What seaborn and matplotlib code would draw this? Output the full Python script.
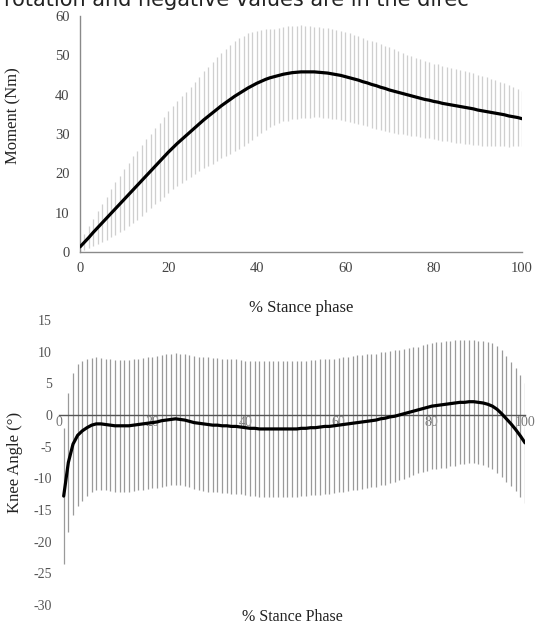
import numpy as np
import seaborn as sns
import matplotlib.pyplot as plt
import pandas as pd

# top panel: moment (Nm), 0..100 % stance
moment_x = list(range(0, 101))
moment_mean = [1.3, 2.5, 3.7, 5.0, 6.2, 7.4, 8.6, 9.8, 11.0, 12.2,
               13.4, 14.6, 15.8, 17.0, 18.2, 19.4, 20.6, 21.8, 23.0, 24.2,
               25.4, 26.5, 27.6, 28.6, 29.6, 30.6, 31.6, 32.6, 33.6, 34.5,
               35.4, 36.3, 37.2, 38.0, 38.8, 39.6, 40.3, 41.0, 41.7, 42.3,
               42.9, 43.4, 43.9, 44.3, 44.6, 44.9, 45.2, 45.4, 45.6, 45.7,
               45.8, 45.8, 45.8, 45.8, 45.7, 45.6, 45.5, 45.3, 45.1, 44.9,
               44.6, 44.3, 44.0, 43.7, 43.3, 43.0, 42.6, 42.3, 41.9, 41.6,
               41.2, 40.9, 40.6, 40.3, 40.0, 39.7, 39.4, 39.1, 38.8, 38.6,
               38.3, 38.1, 37.8, 37.6, 37.4, 37.2, 37.0, 36.8, 36.6, 36.4,
               36.1, 35.9, 35.7, 35.5, 35.3, 35.1, 34.9, 34.6, 34.4, 34.2,
               33.9]
moment_sd = [1.0, 2.0, 2.8, 3.5, 4.2, 4.9, 5.5, 6.1, 6.7, 7.2,
             7.7, 8.1, 8.5, 8.8, 9.1, 9.3, 9.5, 9.7, 9.9, 10.2,
             10.4, 10.6, 10.8, 11.0, 11.2, 11.4, 11.7, 12.0, 12.3, 12.6,
             12.9, 13.2, 13.4, 13.6, 13.8, 14.0, 14.0, 14.0, 13.9, 13.7,
             13.4, 13.1, 12.8, 12.5, 12.2, 12.0, 12.0, 12.0, 11.9, 11.8,
             11.8, 11.7, 11.6, 11.5, 11.4, 11.4, 11.4, 11.4, 11.4, 11.4,
             11.4, 11.3, 11.2, 11.1, 11.0, 11.0, 11.0, 11.0, 11.0, 10.9,
             10.8, 10.6, 10.5, 10.3, 10.2, 10.1, 10.0, 9.9, 9.8, 9.7,
             9.6, 9.6, 9.5, 9.5, 9.4, 9.4, 9.3, 9.3, 9.2, 9.1,
             9.0, 8.9, 8.8, 8.6, 8.4, 8.2, 8.0, 7.8, 7.5, 7.2,
             7.0]

# bottom panel: knee angle (deg), 1..100 % stance
knee_x = list(range(1, 101))
knee_mean = [-12.8, -7.5, -4.6, -3.2, -2.5, -2.0, -1.6, -1.4, -1.4, -1.5,
             -1.6, -1.7, -1.7, -1.7, -1.7, -1.6, -1.5, -1.4, -1.3, -1.2,
             -1.1, -0.9, -0.8, -0.7, -0.6, -0.7, -0.8, -1.0, -1.2, -1.3,
             -1.4, -1.5, -1.6, -1.6, -1.7, -1.7, -1.8, -1.8, -1.9, -2.0,
             -2.1, -2.1, -2.2, -2.2, -2.2, -2.2, -2.2, -2.2, -2.2, -2.2,
             -2.2, -2.1, -2.1, -2.0, -2.0, -1.9, -1.8, -1.8, -1.7, -1.6,
             -1.5, -1.4, -1.3, -1.2, -1.1, -1.0, -0.9, -0.8, -0.6, -0.5,
             -0.3, -0.2, 0.0, 0.2, 0.4, 0.6, 0.8, 1.0, 1.2, 1.4,
             1.5, 1.6, 1.7, 1.8, 1.9, 2.0, 2.0, 2.1, 2.1, 2.0,
             1.9, 1.7, 1.4, 0.9, 0.2, -0.6, -1.4, -2.3, -3.3, -4.4]
knee_sd = [10.7, 11.0, 11.2, 11.2, 11.0, 10.8, 10.6, 10.5, 10.4, 10.4,
           10.4, 10.4, 10.4, 10.4, 10.4, 10.4, 10.4, 10.4, 10.4, 10.4,
           10.4, 10.4, 10.4, 10.4, 10.4, 10.4, 10.4, 10.4, 10.5, 10.5,
           10.6, 10.6, 10.6, 10.6, 10.6, 10.6, 10.6, 10.6, 10.6, 10.6,
           10.7, 10.7, 10.7, 10.7, 10.7, 10.7, 10.7, 10.7, 10.7, 10.7,
           10.7, 10.7, 10.7, 10.7, 10.7, 10.7, 10.7, 10.7, 10.6, 10.6,
           10.6, 10.6, 10.6, 10.6, 10.6, 10.6, 10.5, 10.5, 10.5, 10.5,
           10.4, 10.4, 10.3, 10.3, 10.2, 10.1, 10.0, 10.0, 10.0, 10.0,
           10.0, 10.0, 10.0, 9.9, 9.9, 9.8, 9.8, 9.7, 9.7, 9.7,
           9.8, 9.9, 10.0, 10.0, 10.0, 9.9, 9.8, 9.7, 9.6, 9.5]

header_text = 'rotation and negative values are in the direc'


def draw_moment(ax):
    df = pd.DataFrame({'x': moment_x, 'mean': moment_mean, 'sd': moment_sd})
    ax.vlines(df['x'], df['mean'] - df['sd'], df['mean'] + df['sd'],
              color='#cfcfcf', linewidth=0.9, zorder=1)
    sns.lineplot(data=df, x='x', y='mean', ax=ax, color='black', linewidth=2.3, zorder=3)
    ax.set_xlim(0, 100)
    ax.set_ylim(0, 60)
    ax.set_xticks(range(0, 101, 20))
    ax.set_yticks(range(0, 61, 10))
    sns.despine(ax=ax)
    for s in ['left', 'bottom']:
        ax.spines[s].set_color('#8a8a8a')
        ax.spines[s].set_linewidth(1.0)
    ax.tick_params(colors='#8a8a8a', labelcolor='#444444', labelsize=10.5, length=4, width=0.9)
    ax.set_xlabel('% Stance phase', fontsize=12, color='#222222', labelpad=18)
    ax.set_ylabel('Moment (Nm)', fontsize=12, color='#222222')
    ax.yaxis.set_label_coords(-0.133, 0.58)


def draw_knee(ax):
    df = pd.DataFrame({'x': knee_x, 'mean': knee_mean, 'sd': knee_sd})
    ax.vlines(df['x'], df['mean'] - df['sd'], df['mean'] + df['sd'],
              color='#9a9a9a', linewidth=0.9, zorder=1)
    sns.lineplot(data=df, x='x', y='mean', ax=ax, color='black', linewidth=2.3, zorder=3)
    ax.set_xlim(0, 100)
    ax.set_ylim(-30, 15)
    ax.set_xticks(range(0, 101, 20))
    ax.set_yticks(range(-30, 16, 5))
    for s in ['left', 'top', 'right']:
        ax.spines[s].set_visible(False)
    ax.spines['bottom'].set_position(('data', 0))
    ax.spines['bottom'].set_color('#555555')
    ax.spines['bottom'].set_linewidth(1.0)
    ax.spines['bottom'].set_zorder(2)
    ax.tick_params(axis='y', length=0, labelsize=10, labelcolor='#555555', pad=5)
    ax.tick_params(axis='x', length=0, labelsize=10, labelcolor='#777777', pad=1)
    ax.set_xlabel('% Stance Phase', fontsize=11.5, color='#222222')
    ax.xaxis.set_label_coords(0.5, -0.015)
    ax.set_ylabel('Knee Angle (°)', fontsize=12, color='#222222')
    ax.yaxis.set_label_coords(-0.077, 0.5)


def main():
    sns.set_style('white')
    plt.rcParams['font.family'] = ['Liberation Serif', 'DejaVu Serif']
    plt.rcParams['axes.unicode_minus'] = False

    fig = plt.figure(figsize=(5.37, 6.26), dpi=100)
    ax1 = fig.add_axes([0.149, 0.5974, 0.823, 0.377])
    ax2 = fig.add_axes([0.1099, 0.0335, 0.8678, 0.4553])

    draw_moment(ax1)
    draw_knee(ax2)

    fig.text(0.008, 0.9904, header_text, fontsize=15, color='#222222',
             family='DejaVu Sans', va='baseline', ha='left')

    plt.savefig('out.png', dpi=100)


if __name__ == "__main__":
    main()
